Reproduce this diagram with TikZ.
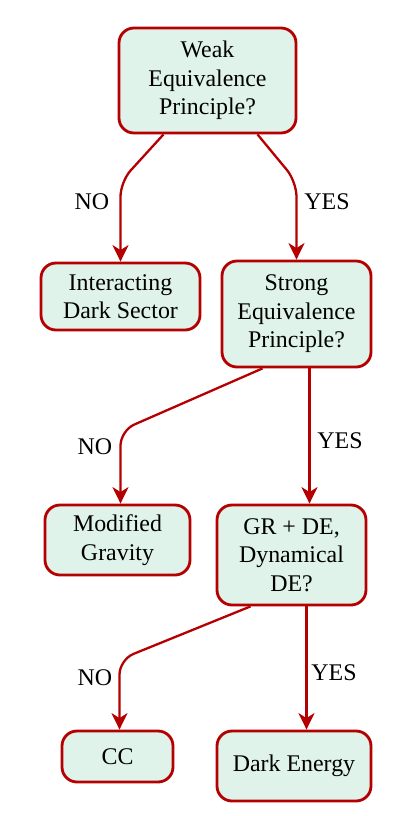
\documentclass[tikz,border=0pt]{standalone}
\usepackage{fontspec}
\setmainfont{Liberation Serif}
\usetikzlibrary{arrows.meta}
\definecolor{punainen}{RGB}{180,0,0}
\definecolor{minttu}{RGB}{223,243,235}
\begin{document}
\begin{tikzpicture}[x=0.2mm, y=-0.2mm,
    ruutu/.style={draw=punainen, fill=minttu, line width=1.6bp,
      rounded corners=3mm, align=center, inner sep=0pt,
      font=\fontsize{13.6}{16.2}\selectfont},
    haara/.style={draw=punainen, line width=1.3bp, rounded corners=3mm,
      -{Stealth[length=3.3mm, width=3.2mm, inset=1mm]}},
    vastaus/.style={font=\fontsize{13.6}{16.2}\selectfont}]
  \useasboundingbox (0,0) rectangle (410,816);

  % Laatikot
  \node [ruutu, minimum width=35.4mm, minimum height=21mm] (weak) at (207.5,80.5)
    {Weak\\Equivalence\\Principle?};
  \node [ruutu, minimum width=31.8mm, minimum height=13.4mm] (inter) at (120.5,296.5)
    {Interacting\\Dark Sector};
  \node [ruutu, minimum width=29.8mm, minimum height=21.2mm] (strong) at (296.5,314)
    {Strong\\Equivalence\\Principle?};
  \node [ruutu, minimum width=29mm, minimum height=14mm] (modgrav) at (117.5,540)
    {Modified\\Gravity};
  \node [ruutu, minimum width=29.8mm, minimum height=20mm] (grde) at (291.5,555)
    {GR + DE,\\Dynamical\\DE?};
  \node [ruutu, minimum width=22.2mm, minimum height=10.2mm] (cc) at (117.5,756.5) {CC};
  \node [ruutu, minimum width=30.8mm, minimum height=14mm] (darken) at (294,766)
    {Dark Energy};

  % Haarat
  \draw [haara] ([xshift=-8.8mm]weak.south) -- ([yshift=16mm]inter.north) -- (inter.north);
  \draw [haara] ([xshift=10mm]weak.south) -- ([yshift=15.6mm]strong.north) -- (strong.north);
  \draw [haara] ([xshift=-6.8mm]strong.south) -- ([xshift=0.6mm, yshift=14.6mm]modgrav.north)
    -- ([xshift=0.6mm]modgrav.north);
  \draw [haara] ([xshift=2.6mm]strong.south) -- ([xshift=2.6mm]strong.south |- grde.north);
  \draw [haara] ([xshift=-8.2mm]grde.south) -- ([xshift=0.4mm, yshift=14mm]cc.north)
    -- ([xshift=0.4mm]cc.north);
  \draw [haara] ([xshift=3mm]grde.south) -- ([xshift=3mm]grde.south |- darken.north);

  % Vastaukset
  \node [vastaus] (no1) at (92,202) {NO};
  \node [vastaus] (yes1) at (327,202) {YES};
  \node [vastaus] (no2) at (95,447) {NO};
  \node [vastaus] (yes2) at (340,441) {YES};
  \node [vastaus] (no3) at (95,678) {NO};
  \node [vastaus] (yes3) at (334,673) {YES};
\end{tikzpicture}
\end{document}
